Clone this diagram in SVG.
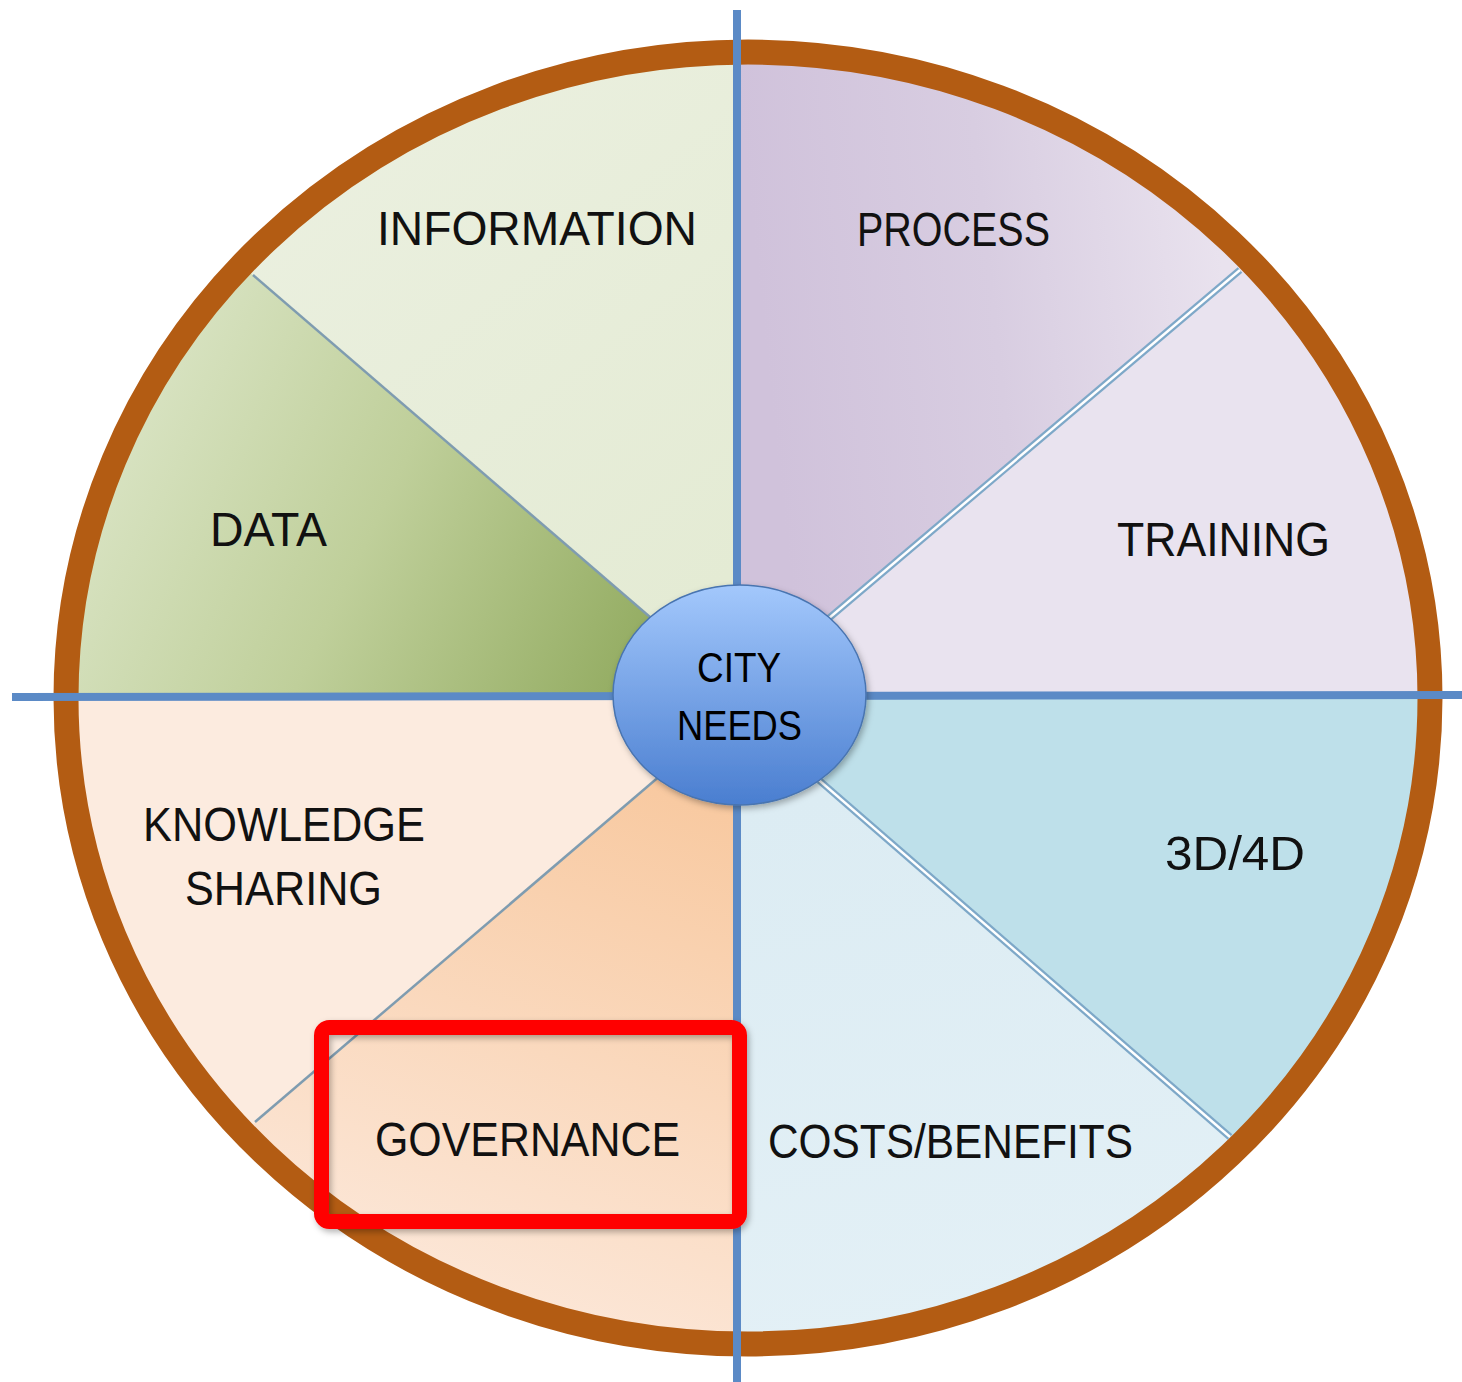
<svg xmlns="http://www.w3.org/2000/svg" width="1462" height="1382" viewBox="0 0 1462 1382">
<defs>
<style>
.lbl{font-family:"Liberation Sans",Arial,sans-serif;font-size:48px;fill:#111;text-anchor:middle}
.ctr{font-family:"Liberation Sans",Arial,sans-serif;font-size:42px;fill:#000;text-anchor:middle}
.spoke{stroke:#5b8ac6;stroke-width:8;fill:none}
.thin{stroke:#7f9cb0;stroke-width:2.5;fill:none}
.dblo{stroke:#7ea8c8;stroke-width:7;fill:none}
.dbli{stroke:#ffffff;stroke-width:2.5;fill:none}
</style>
<clipPath id="wheel"><ellipse cx="748" cy="698" rx="682" ry="646"/></clipPath>
<linearGradient id="gData" gradientUnits="userSpaceOnUse" x1="80" y1="420" x2="640" y2="690">
<stop offset="0" stop-color="#dce6c8"/><stop offset="0.5" stop-color="#bfcf9a"/><stop offset="1" stop-color="#92ab60"/>
</linearGradient>
<linearGradient id="gInfo" gradientUnits="userSpaceOnUse" x1="300" y1="100" x2="700" y2="600">
<stop offset="0" stop-color="#ebf0e0"/><stop offset="1" stop-color="#e4ebd4"/>
</linearGradient>
<linearGradient id="gProc" gradientUnits="userSpaceOnUse" x1="760" y1="300" x2="1220" y2="250">
<stop offset="0" stop-color="#d0c2db"/><stop offset="0.5" stop-color="#d8cde1"/><stop offset="1" stop-color="#e9e2ee"/>
</linearGradient>
<linearGradient id="gGov" gradientUnits="userSpaceOnUse" x1="700" y1="790" x2="500" y2="1340">
<stop offset="0" stop-color="#f8c9a0"/><stop offset="1" stop-color="#fce8da"/>
</linearGradient>
<linearGradient id="gCost" gradientUnits="userSpaceOnUse" x1="800" y1="800" x2="900" y2="1340">
<stop offset="0" stop-color="#dcecf3"/><stop offset="1" stop-color="#e3f0f6"/>
</linearGradient>
<linearGradient id="gCity" x1="0" y1="0" x2="0" y2="1">
<stop offset="0" stop-color="#a3c8fc"/><stop offset="1" stop-color="#4a7ed0"/>
</linearGradient>
<filter id="sh" x="-20%" y="-20%" width="140%" height="140%">
<feDropShadow dx="2" dy="3" stdDeviation="3" flood-color="#000" flood-opacity="0.3"/>
</filter>
</defs>
<rect width="1462" height="1382" fill="#ffffff"/>
<g clip-path="url(#wheel)">
<g id="information"><polygon points="737,696 737,-200 -231,-142 737,692" fill="url(#gInfo)"/></g>
<g id="data"><polygon points="737,692 -231,-142 -200,696 737,696" fill="url(#gData)"/></g>
<g id="knowledge-sharing"><polygon points="737,696 -200,696 -227,1534 737,710" fill="#fcebdf"/></g>
<g id="governance"><polygon points="737,710 -227,1534 737,1600" fill="url(#gGov)"/></g>
<g id="costs-benefits"><polygon points="737,709 737,1600 1723,1565" fill="url(#gCost)"/></g>
<g id="d3d4d"><polygon points="737,696 737,709 1723,1565 1700,696" fill="#bee0ea"/></g>
<g id="training"><polygon points="737,696 1700,696 1743,-156" fill="#e9e3ef"/></g>
<g id="process"><polygon points="737,696 1743,-156 737,-200" fill="url(#gProc)"/></g>
</g>
<g id="ring"><ellipse cx="748" cy="698" rx="682" ry="646" fill="none" stroke="#b35c13" stroke-width="25"/></g>
<g id="connectors">
<line class="thin" x1="737" y1="692" x2="253" y2="275"/>
<line class="thin" x1="737" y1="710" x2="255" y2="1122"/>
<line class="dblo" x1="737" y1="696" x2="1240" y2="270"/>
<line class="dbli" x1="737" y1="696" x2="1240" y2="270"/>
<line class="dblo" x1="737" y1="709" x2="1230" y2="1137"/>
<line class="dbli" x1="737" y1="709" x2="1230" y2="1137"/>
<line class="spoke" x1="737" y1="10" x2="737" y2="1382"/>
<line class="spoke" x1="12" y1="697" x2="1462" y2="695"/>
</g>
<g id="labels">
<text class="lbl" x="537" y="245" textLength="320" lengthAdjust="spacingAndGlyphs">INFORMATION</text>
<text class="lbl" x="953.5" y="246" textLength="193" lengthAdjust="spacingAndGlyphs">PROCESS</text>
<text class="lbl" x="268.5" y="546" textLength="117" lengthAdjust="spacingAndGlyphs">DATA</text>
<text class="lbl" x="1223.5" y="556" textLength="213" lengthAdjust="spacingAndGlyphs">TRAINING</text>
<text class="lbl" x="284" y="841" textLength="282" lengthAdjust="spacingAndGlyphs">KNOWLEDGE</text>
<text class="lbl" x="283.5" y="905" textLength="197" lengthAdjust="spacingAndGlyphs">SHARING</text>
<text class="lbl" x="1235" y="870" textLength="140" lengthAdjust="spacingAndGlyphs">3D/4D</text>
<text class="lbl" x="527.5" y="1156" textLength="305" lengthAdjust="spacingAndGlyphs">GOVERNANCE</text>
<text class="lbl" x="950.5" y="1158" textLength="365" lengthAdjust="spacingAndGlyphs">COSTS/BENEFITS</text>
</g>
<g id="city-needs">
<ellipse cx="739.5" cy="695" rx="126.5" ry="110" fill="url(#gCity)" stroke="#4874b0" stroke-width="1.5" filter="url(#sh)"/>
<text class="ctr" x="739" y="682" textLength="84" lengthAdjust="spacingAndGlyphs">CITY</text>
<text class="ctr" x="739.5" y="740" textLength="125" lengthAdjust="spacingAndGlyphs">NEEDS</text>
</g>
<g id="highlight">
<rect x="321.5" y="1027.5" width="418" height="194" rx="8" fill="none" stroke="#ff0000" stroke-width="15" filter="url(#sh)"/>
</g>
</svg>
